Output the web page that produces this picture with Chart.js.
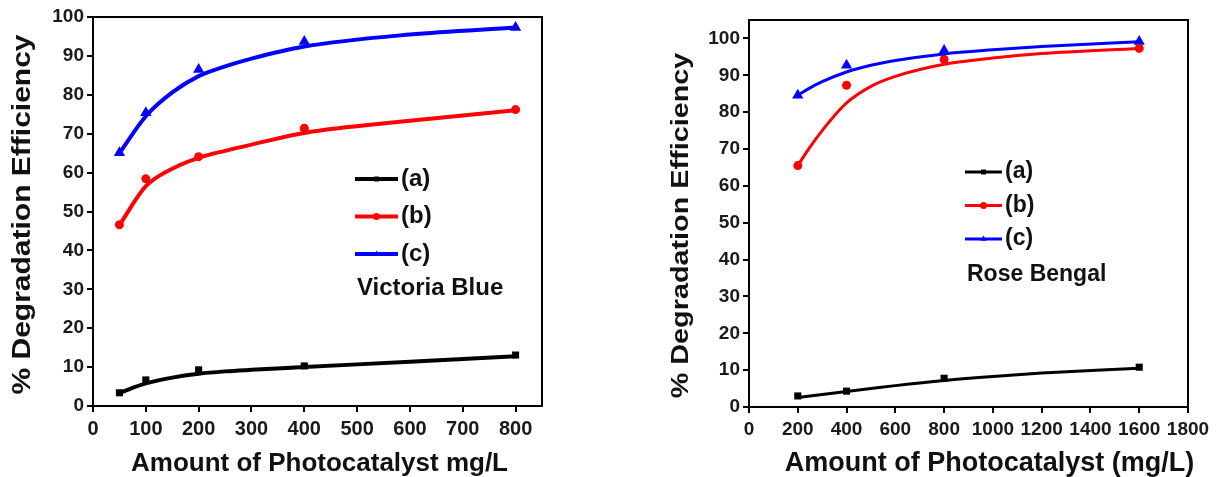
<!DOCTYPE html>
<html>
<head>
<meta charset="utf-8">
<script src="https://cdn.jsdelivr.net/npm/chart.js@4/dist/chart.umd.min.js"></script>
<style>
  html, body { margin: 0; background: #fff; }
  .box { position: absolute; top: 0; height: 477px; }
  #left { left: 0; width: 560px; }
  #right { left: 640px; width: 576px; }
</style>
</head>
<body>
<div class="box" id="left"><canvas id="chart-vb"></canvas></div>
<div class="box" id="right"><canvas id="chart-rb"></canvas></div>
<script>
// Victoria Blue (left panel)
const vbDose = [50, 100, 200, 400, 800];
const vbA = [3.4, 6.7, 9.3, 10.3, 13.1];
const vbB = [46.6, 58.4, 64.1, 71.4, 76.2];
const vbC = [65.1, 75.4, 86.5, 93.7, 97.3];
// fitted curves
const vbFitDose = [50, 100, 150, 200, 250, 300, 400, 600, 800];
const vbFitA = [3.4, 5.8, 7.3, 8.3, 8.9, 9.3, 10.0, 11.4, 12.8];
const vbFitB = [46.5, 56.5, 61.0, 63.8, 65.6, 67.2, 70.2, 73.3, 76.0];
const vbFitC = [65.0, 74.5, 80.6, 84.8, 87.3, 89.3, 92.4, 95.5, 97.3];
const vbXTicks = [0, 100, 200, 300, 400, 500, 600, 700, 800];

// Rose Bengal (right panel)
const rbDose = [200, 400, 800, 1600];
const rbA = [3.0, 4.3, 7.8, 10.8];
const rbB = [65.5, 87.3, 94.3, 97.3];
const rbC = [84.6, 92.7, 96.7, 99.2];
const rbFitDose = [200, 250, 300, 400, 500, 600, 800, 1000, 1200, 1600];
const rbFitA = [2.6, 3.0, 3.4, 4.2, 5.0, 5.8, 7.2, 8.3, 9.2, 10.5];
const rbFitB = [65.5, 70.5, 75.0, 82.5, 87.0, 89.7, 93.0, 94.7, 95.9, 97.3];
const rbFitC = [84.6, 86.6, 88.3, 90.9, 92.7, 94.0, 95.8, 96.9, 97.8, 99.1];
const rbXTicks = [0, 200, 400, 600, 800, 1000, 1200, 1400, 1600, 1800];

const yTicks = [0, 10, 20, 30, 40, 50, 60, 70, 80, 90, 100];
const seriesNames = ['(a)', '(b)', '(c)'];
const seriesColors = ['#000000', '#ff0000', '#0000ff'];
const seriesMarks = ['rect', 'circle', 'triangle'];
const markRadius = [5, 4.5, 6.5];

const FONT = '"Liberation Sans", Arial, sans-serif';
const zip = (xs, ys) => xs.map((x, i) => ({ x, y: ys[i] }));

// frame round the plot area + axis titles
const frame = {
  id: 'frame',
  afterDraw(chart, args, o) {
    const { ctx, chartArea: a } = chart;
    ctx.save();
    ctx.strokeStyle = '#000';
    ctx.lineWidth = 2;
    ctx.strokeRect(a.left, a.top, a.right - a.left, a.bottom - a.top);
    ctx.fillStyle = '#111';
    ctx.textAlign = 'center';
    ctx.textBaseline = 'middle';
    ctx.font = `bold ${o.xSize}px ${FONT}`;
    ctx.fillText(o.xText, (a.left + a.right) / 2 + o.xShift, o.xY);
    ctx.translate(o.yX, (a.top + a.bottom) / 2 + o.yShift);
    ctx.rotate(-Math.PI / 2);
    ctx.scale(o.yStretch, 1);
    ctx.font = `bold ${o.ySize}px ${FONT}`;
    ctx.fillText(o.yText, 0, 0);
    ctx.restore();
  }
};

// legend drawn inside the plot
const inLegend = {
  id: 'inLegend',
  afterDraw(chart, args, o) {
    const { ctx } = chart;
    ctx.save();
    ctx.textBaseline = 'middle';
    ctx.fillStyle = '#111';
    ctx.font = `bold ${o.size}px ${FONT}`;
    seriesNames.forEach((name, i) => {
      const y = o.top + i * o.gap;
      ctx.strokeStyle = seriesColors[i];
      ctx.lineWidth = o.lw;
      ctx.beginPath();
      ctx.moveTo(o.left, y);
      ctx.lineTo(o.left + o.len, y);
      ctx.stroke();
      ctx.fillStyle = seriesColors[i];
      Chart.helpers.drawPoint(ctx, { pointStyle: seriesMarks[i], radius: 3.5, borderWidth: 0 }, o.left + o.len / 2, y);
      ctx.fillStyle = '#111';
      ctx.fillText(name, o.left + o.len + 3, y);
    });
    ctx.fillText(o.caption, o.left + 2, o.top + 2 * o.gap + o.capGap);
    ctx.restore();
  }
};

function datasets(fitX, fits, ptX, pts, lw) {
  const out = [];
  fits.forEach((f, i) => {
    out.push({
      data: zip(fitX, f), showLine: true, borderColor: seriesColors[i], borderWidth: lw,
      pointRadius: 0, cubicInterpolationMode: 'monotone'
    });
  });
  pts.forEach((p, i) => {
    out.push({
      data: zip(ptX, p), showLine: false, pointStyle: seriesMarks[i], pointRadius: markRadius[i],
      backgroundColor: seriesColors[i], borderColor: seriesColors[i], borderWidth: 0
    });
  });
  return out;
}

function makeChart(id, cfg) {
  const tickColor = '#1a1a1a';
  return new Chart(document.getElementById(id), {
    type: 'scatter',
    data: { datasets: datasets(cfg.fitX, cfg.fits, cfg.ptX, cfg.pts, cfg.lw) },
    options: {
      responsive: true,
      maintainAspectRatio: false,
      animation: false,
      layout: { padding: { top: cfg.padTop, right: cfg.padRight, left: 0, bottom: 0 } },
      plugins: {
        legend: { display: false },
        tooltip: { enabled: false },
        frame: cfg.titles,
        inLegend: cfg.legend
      },
      scales: {
        x: {
          type: 'linear', min: 0, max: cfg.xMax,
          afterBuildTicks: s => { s.ticks = cfg.xTicks.map(v => ({ value: v })); },
          afterFit: s => { s.height = cfg.xAxisH; },
          border: { display: true, color: '#000', width: 2 },
          grid: { drawOnChartArea: false, drawTicks: true, tickLength: 6, color: '#000', lineWidth: 2 },
          ticks: {
            color: tickColor, padding: 5, maxRotation: 0, autoSkip: false,
            callback: v => String(v),
            font: { family: FONT, size: cfg.xTickSize, weight: 'bold' }
          }
        },
        y: {
          min: 0, max: cfg.yMax,
          afterBuildTicks: s => { s.ticks = yTicks.map(v => ({ value: v })); },
          afterFit: s => { s.width = cfg.yAxisW; },
          border: { display: true, color: '#000', width: 2 },
          grid: { drawOnChartArea: false, drawTicks: true, tickLength: 6, color: '#000', lineWidth: 2 },
          ticks: { color: tickColor, padding: 3, callback: v => String(v), font: { family: FONT, size: 19, weight: 'bold' } }
        }
      }
    },
    plugins: [frame, inLegend]
  });
}

makeChart('chart-vb', {
  fitX: vbFitDose, fits: [vbFitA, vbFitB, vbFitC],
  ptX: vbDose, pts: [vbA, vbB, vbC], lw: 4,
  xMax: 850, yMax: 100, xTicks: vbXTicks, xTickSize: 20,
  padTop: 17, padRight: 18, xAxisH: 71, yAxisW: 93,
  titles: { xText: 'Amount of Photocatalyst mg/L', xSize: 26, xShift: 2, xY: 464,
            yText: '% Degradation Efficiency', ySize: 25, yX: 23, yShift: 3, yStretch: 1.2 },
  legend: { left: 355, top: 179, gap: 37.5, len: 43, lw: 4, size: 24, caption: 'Victoria Blue', capGap: 34 }
});

makeChart('chart-rb', {
  fitX: rbFitDose, fits: [rbFitA, rbFitB, rbFitC],
  ptX: rbDose, pts: [rbA, rbB, rbC], lw: 3,
  xMax: 1800, yMax: 105, xTicks: rbXTicks, xTickSize: 19,
  padTop: 20, padRight: 28, xAxisH: 70, yAxisW: 109,
  titles: { xText: 'Amount of Photocatalyst (mg/L)', xSize: 27, xShift: 21, xY: 464,
            yText: '% Degradation Efficiency', ySize: 24, yX: 41, yShift: 12, yStretch: 1.2 },
  legend: { left: 325, top: 172, gap: 33.5, len: 37, lw: 3, size: 23, caption: 'Rose Bengal', capGap: 36 }
});
</script>
</body>
</html>
